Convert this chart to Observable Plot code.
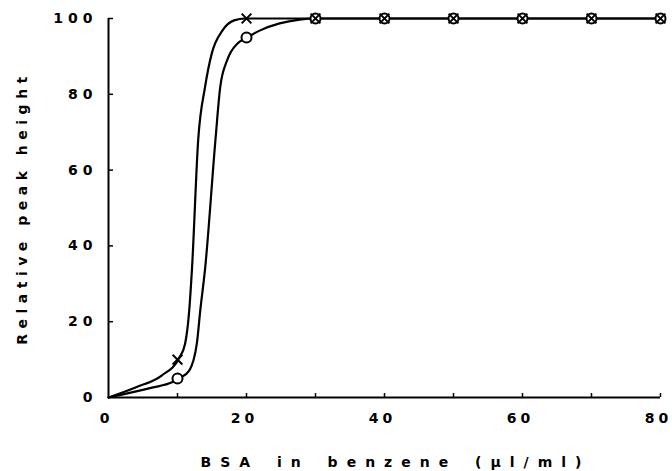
<!DOCTYPE html>
<html>
<head>
<meta charset="utf-8">
<script src="https://cdn.jsdelivr.net/npm/d3@7"></script>
<script src="https://cdn.jsdelivr.net/npm/@observablehq/plot@0.6"></script>
<style>
  html, body { margin: 0; padding: 0; background: #fff; }
  #chart svg { display: block; }
  #chart svg text { font-family: "DejaVu Sans", sans-serif; font-weight: bold; fill: #000; }
  #chart svg [aria-label="y-axis tick label"] text { letter-spacing: 5px; }
  #chart svg [aria-label="x-axis tick label"] text { letter-spacing: 4px; }
  #chart svg .ylab text { letter-spacing: 5.5px; }
  #chart svg .xlab text { letter-spacing: 9px; word-spacing: 4px; }
</style>
</head>
<body>
<div id="chart"></div>
<script>
// Measured points
const conc = [10, 20, 30, 40, 50, 60, 70, 80];
const crossY = [10, 100, 100, 100, 100, 100, 100, 100];
const circleY = [5, 95, 100, 100, 100, 100, 100, 100];

// Hand-drawn smooth curves
const crossCurveX = [0, 4, 7.7, 10.2, 11.1, 11.7, 12.1, 13.0, 14.0, 15.0, 16.5, 18.2, 19.8, 30, 80];
const crossCurveY = [0, 2.7, 5.8, 10.3, 14.2, 23, 34, 68, 82, 91, 96.8, 99.5, 100, 100, 100];
const circleCurveX = [0, 6.3, 9.2, 10.2, 11.7, 12.8, 13.3, 14.0, 15.5, 16.2, 17.2, 18.7, 19.8, 21.9, 24.8, 27.7, 29.7, 80];
const circleCurveY = [0, 2.6, 4.0, 5.0, 7.1, 14.2, 23, 34, 68, 82, 89, 93.4, 94.7, 96.8, 98.7, 99.7, 100, 100];

// Axis ticks and labels
const xTicks = [0, 10, 20, 30, 40, 50, 60, 70, 80];
const xTickLabels = [0, 20, 40, 60, 80];
const yTicks = [0, 20, 40, 60, 80, 100];
const xTitle = "BSA in benzene (µl/ml)";
const yTitle = "Relative peak height";

const W = 672, H = 471;
const ML = 108, MR = 12, MT = 18, MB = 74;

const crossPts = conc.map((x, i) => ({x, y: crossY[i]}));
const circlePts = conc.map((x, i) => ({x, y: circleY[i]}));
const crossCurve = crossCurveX.map((x, i) => ({x, y: crossCurveY[i]}));
const circleCurve = circleCurveX.map((x, i) => ({x, y: circleCurveY[i]}));

const plot = Plot.plot({
  width: W,
  height: H,
  marginLeft: ML,
  marginRight: MR,
  marginTop: MT,
  marginBottom: MB,
  x: {domain: [0, 80]},
  y: {domain: [0, 100]},
  style: {background: "#fff"},
  marks: [
    Plot.axisY(yTicks, {tickSize: 0, tickPadding: 11, fontSize: 14, label: null}),
    Plot.axisX(xTickLabels, {tickSize: 0, tickPadding: 16, fontSize: 14, dx: -2, label: null}),
    Plot.text([yTitle], {text: d => d, frameAnchor: "left", dx: -86, rotate: -90, fontSize: 14, textAnchor: "middle", lineAnchor: "middle", className: "ylab"}),
    Plot.text([xTitle], {text: d => d, frameAnchor: "bottom", dy: 65, dx: 11, fontSize: 14, textAnchor: "middle", lineAnchor: "middle", className: "xlab"}),
    Plot.tickY(yTicks.slice(1), {y: d => d, insetRight: W - ML - MR - 5, stroke: "#000", strokeWidth: 1.5}),
    Plot.tickX(xTicks.slice(1), {x: d => d, insetTop: H - MT - MB - 4, stroke: "#000", strokeWidth: 1.5}),
    Plot.ruleX([0], {y1: 0, y2: 100, stroke: "#000", strokeWidth: 2}),
    Plot.ruleY([0], {x1: 0, x2: 80, stroke: "#000", strokeWidth: 2}),
    Plot.line(crossCurve, {x: "x", y: "y", curve: "monotone-x", stroke: "#000", strokeWidth: 2.2}),
    Plot.line(circleCurve, {x: "x", y: "y", curve: "monotone-x", stroke: "#000", strokeWidth: 2.2}),
    Plot.dot(circlePts, {x: "x", y: "y", symbol: "circle", r: 5, fill: "#fff", stroke: "#000", strokeWidth: 2}),
    Plot.dot(crossPts, {x: "x", y: "y", symbol: "times", r: 4.5, stroke: "#000", strokeWidth: 2})
  ]
});
document.getElementById("chart").appendChild(plot);
</script>
</body>
</html>
